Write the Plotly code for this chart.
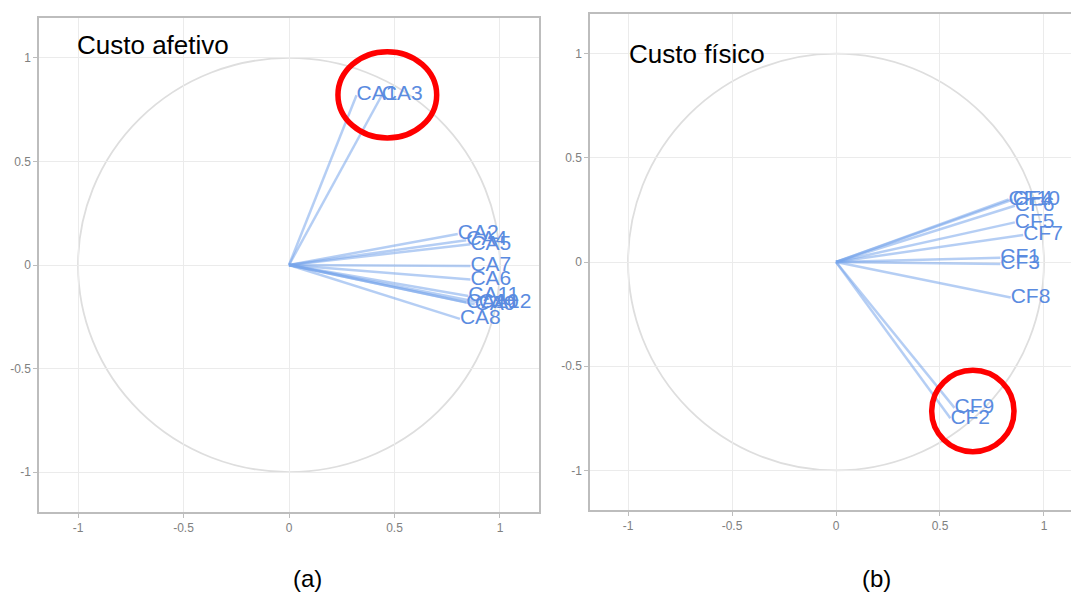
import plotly.graph_objects as go

# ---- data ----
ca_labels = ["CA1", "CA3", "CA2", "CA4", "CA5", "CA7", "CA6", "CA11", "CA10", "CA9", "CA12", "CA8"]
ca_x = [0.32, 0.44, 0.80, 0.84, 0.86, 0.86, 0.86, 0.85, 0.84, 0.88, 0.90, 0.81]
ca_y = [0.82, 0.82, 0.15, 0.12, 0.10, -0.005, -0.07, -0.15, -0.18, -0.19, -0.18, -0.26]

cf_labels = ["CF10", "CF4", "CF6", "CF5", "CF7", "CF1", "CF3", "CF8", "CF9", "CF2"]
cf_x = [0.83, 0.85, 0.86, 0.86, 0.90, 0.79, 0.79, 0.84, 0.57, 0.55]
cf_y = [0.30, 0.30, 0.27, 0.19, 0.13, 0.02, -0.01, -0.17, -0.70, -0.75]

tick_vals = [-1, -0.5, 0, 0.5, 1]
tick_text = ["-1", "-0.5", "0", "0.5", "1"]

panel_titles = ["Custo afetivo", "Custo físico"]
panel_captions = ["(a)", "(b)"]

# highlight ellipses (data coords: x0, y0, x1, y1)
hl_left = [0.232, 0.613, 0.70, 1.03]
hl_right = [0.46, -0.91, 0.856, -0.52]

LINE_C = "rgba(120,165,235,0.55)"
TEXT_C = "#5a8be0"
FONT = "Liberation Sans, Arial"

W, H = 1071, 595

fig = go.Figure()


def add_panel(labels, xs, ys, xref, yref):
    lx, ly = [], []
    for x, y in zip(xs, ys):
        lx += [0, x, None]
        ly += [0, y, None]
    fig.add_trace(go.Scatter(x=lx, y=ly, mode="lines", xaxis=xref, yaxis=yref,
                             line=dict(color=LINE_C, width=2.5), hoverinfo="skip",
                             showlegend=False))
    fig.add_trace(go.Scatter(x=xs, y=ys, mode="text", text=labels, xaxis=xref, yaxis=yref,
                             textposition="middle right",
                             textfont=dict(family=FONT, size=21, color=TEXT_C),
                             showlegend=False))


add_panel(ca_labels, ca_x, ca_y, "x", "y")
add_panel(cf_labels, cf_x, cf_y, "x2", "y2")

axis_common = dict(
    tickvals=tick_vals, ticktext=tick_text, showgrid=True, gridcolor="#ebebeb", gridwidth=1,
    zeroline=False, showline=True, linecolor="#bdbdbd", linewidth=1.5, mirror=True,
    ticks="outside", ticklen=4, tickcolor="#bdbdbd", automargin=False,
    tickfont=dict(family=FONT, size=12, color="#808080"),
)

fig.update_layout(
    width=W, height=H, margin=dict(l=0, r=0, t=0, b=0, autoexpand=False),
    paper_bgcolor="white", plot_bgcolor="white",
    xaxis=dict(domain=[39 / W, 539 / W], range=[-1.185, 1.185], anchor="y", **axis_common),
    yaxis=dict(domain=[1 - 512 / H, 1 - 18 / H], range=[-1.193, 1.193], anchor="x", **axis_common),
    xaxis2=dict(domain=[590 / W, 1.0], range=[-1.183, 1.13], anchor="y2", **axis_common),
    yaxis2=dict(domain=[1 - 510 / H, 1 - 14 / H], range=[-1.19, 1.19], anchor="x2", **axis_common),
)

# unit circles
for xr, yr in [("x", "y"), ("x2", "y2")]:
    fig.add_shape(type="circle", xref=xr, yref=yr, x0=-1, y0=-1, x1=1, y1=1,
                  line=dict(color="#dedede", width=1.8), layer="below")

# red highlight circles
for (xr, yr), hl in [(("x", "y"), hl_left), (("x2", "y2"), hl_right)]:
    fig.add_shape(type="circle", xref=xr, yref=yr, x0=hl[0], y0=hl[1], x1=hl[2], y1=hl[3],
                  line=dict(color="#ff0000", width=5.5))

# panel titles
fig.add_annotation(text=panel_titles[0], xref="paper", yref="paper", x=75 / W, y=1 - 45 / H,
                   xanchor="left", yanchor="middle", showarrow=False,
                   font=dict(family=FONT, size=26, color="black"))
fig.add_annotation(text=panel_titles[1], xref="paper", yref="paper", x=627 / W, y=1 - 54 / H,
                   xanchor="left", yanchor="middle", showarrow=False,
                   font=dict(family=FONT, size=26, color="black"))

# captions
fig.add_annotation(text=panel_captions[0], xref="paper", yref="paper", x=307 / W, y=1 - 578 / H,
                   xanchor="center", yanchor="middle", showarrow=False,
                   font=dict(family=FONT, size=24, color="black"))
fig.add_annotation(text=panel_captions[1], xref="paper", yref="paper", x=876 / W, y=1 - 578 / H,
                   xanchor="center", yanchor="middle", showarrow=False,
                   font=dict(family=FONT, size=24, color="black"))

fig.write_html("out.html", config={"displayModeBar": False},
               post_script="document.body.style.margin='0px';document.body.style.overflow='hidden';")
